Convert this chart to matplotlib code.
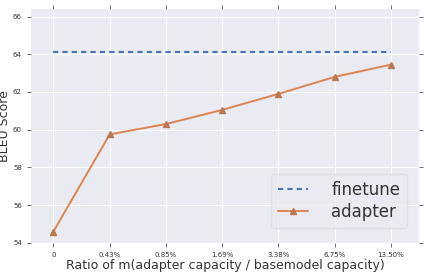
import matplotlib
matplotlib.use("Agg")
import matplotlib.pyplot as plt

ratios = ["0", "0.43%", "0.85%", "1.69%", "3.38%", "6.75%", "13.50%"]
finetune = [64.1] * 7
adapter = [54.6, 59.75, 60.3, 61.05, 61.9, 62.8, 63.45]

plt.style.use("seaborn-v0_8-darkgrid")
plt.rcParams["font.family"] = ["DejaVu Sans"]
fig, ax = plt.subplots(figsize=(4.29, 2.72), dpi=100)
x = range(len(ratios))
ax.plot(x, finetune, "--", color="#4C72B0", lw=1.5, dashes=(2.5, 2), label="finetune")
ax.plot(x, adapter, "-", color="#DD8452", lw=1.4, marker="^", ms=5,
        mfc="#B87850", mec="#B87850", label="adapter")

ax.set_xticks(list(x))
ax.set_xticklabels(ratios)
ax.set_xlim(-0.4, 6.5)
ax.set_ylim(54, 66.4)
ax.set_yticks(range(54, 67, 2))
ax.tick_params(axis="both", labelsize=5, length=3, width=0.6, color="#555555",
               labelcolor="#333333", top=True, right=True, bottom=True, left=True,
               direction="out")
ax.set_xlabel("Ratio of m(adapter capacity / basemodel capacity)", fontsize=9,
              labelpad=1, color="#333333")
ax.set_ylabel("BLEU Score", fontsize=9, labelpad=1, color="#333333")
leg = ax.legend(loc="lower right", fontsize=12, frameon=True, handlelength=1.8,
                borderpad=0.4, labelspacing=0.25, handletextpad=1.4,
                bbox_to_anchor=(0.99, 0.03))
leg.get_frame().set_facecolor("#EAEAF2")
leg.get_frame().set_edgecolor("#DDDDE6")
for t in leg.get_texts():
    t.set_color("#333333")

fig.subplots_adjust(left=0.072, right=0.977, top=0.967, bottom=0.107)
fig.savefig("out.png", dpi=100)
